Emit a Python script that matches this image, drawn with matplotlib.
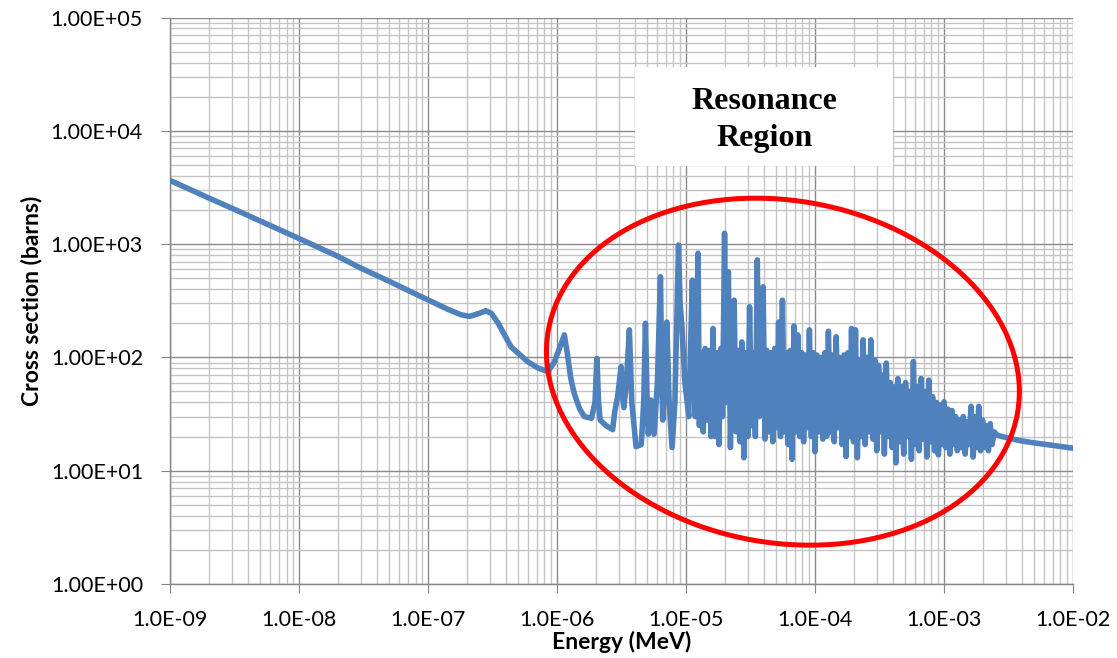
import matplotlib
matplotlib.use("Agg")
import matplotlib.pyplot as plt
from matplotlib.patches import Ellipse, Rectangle
from matplotlib.transforms import ScaledTranslation
from matplotlib.ticker import LogLocator, FuncFormatter, NullFormatter

# 1/v part below the first resonance
thermal_energy = [1.0e-9, 2.0e-9, 3.0e-9, 5.0e-9, 1.0e-8, 2.0e-8, 3.0e-8, 5.0e-8, 7.0e-8,
                  1.0e-7, 1.4e-7, 1.8e-7, 2.1e-7, 2.5e-7, 2.8e-7, 3.1e-7, 3.5e-7, 4.4e-7,
                  5.9e-7, 7.2e-7, 8.5e-7]
thermal_xs = [3650, 2550, 2080, 1600, 1120, 780, 615, 470, 390,
              322, 268, 238, 230, 245, 258, 245, 200, 124,
              92, 80, 75]

# isolated resonances
low_res_energy = [9.5e-7, 1.04e-6, 1.14e-6, 1.2e-6, 1.28e-6, 1.36e-6, 1.5e-6, 1.63e-6, 1.85e-6,
                  1.97e-6, 2.04e-6, 2.1e-6, 2.16e-6, 2.4e-6, 2.7e-6, 2.8e-6, 2.95e-6, 3.14e-6,
                  3.22e-6, 3.3e-6, 3.45e-6, 3.64e-6, 3.8e-6, 4.1e-6, 4.5e-6, 4.7e-6, 4.85e-6,
                  5.0e-6, 5.1e-6, 5.35e-6, 5.65e-6, 5.8e-6, 6.0e-6, 6.34e-6, 6.5e-6, 6.6e-6,
                  6.85e-6, 7.1e-6, 7.4e-6, 7.8e-6, 8.2e-6, 8.75e-6, 9.0e-6, 9.3e-6, 9.8e-6,
                  1.03e-5, 1.05e-5, 1.08e-5, 1.12e-5, 1.15e-5, 1.18e-5, 1.24e-5]
low_res_xs = [90, 118, 158, 110, 65, 48, 35, 30, 29,
              40, 98, 40, 28, 25, 23, 33, 45, 83,
              45, 36, 60, 175, 40, 16.3, 17, 40, 200,
              40, 21, 42, 21, 32, 60, 515, 60, 28,
              60, 205, 40, 16, 40, 980, 300, 187, 60,
              37, 30, 100, 480, 130, 30, 830]

# dense resonance band
dense_energy = [
    1.27e-5, 1.32e-5, 1.36e-5, 1.41e-5, 1.46e-5, 1.51e-5, 1.56e-5, 1.62e-5, 1.68e-5, 1.74e-5,
    1.80e-5, 1.86e-5, 1.92e-5, 1.99e-5, 2.06e-5, 2.13e-5, 2.21e-5, 2.28e-5, 2.36e-5, 2.45e-5,
    2.53e-5, 2.62e-5, 2.71e-5, 2.81e-5, 2.91e-5, 3.01e-5, 3.11e-5, 3.22e-5, 3.34e-5, 3.45e-5,
    3.57e-5, 3.70e-5, 3.83e-5, 3.96e-5, 4.10e-5, 4.24e-5, 4.39e-5, 4.55e-5, 4.71e-5, 4.87e-5,
    5.04e-5, 5.22e-5, 5.40e-5, 5.59e-5, 5.79e-5, 5.99e-5, 6.20e-5, 6.42e-5, 6.64e-5, 6.87e-5,
    7.11e-5, 7.36e-5, 7.62e-5, 7.89e-5, 8.16e-5, 8.45e-5, 8.74e-5, 9.05e-5, 9.37e-5, 9.70e-5,
    1.00e-4, 1.035e-4, 1.07e-4, 1.11e-4, 1.15e-4, 1.19e-4, 1.23e-4, 1.27e-4, 1.32e-4, 1.36e-4,
    1.41e-4, 1.46e-4, 1.51e-4, 1.56e-4, 1.62e-4, 1.68e-4, 1.74e-4, 1.80e-4, 1.86e-4, 1.92e-4,
    1.99e-4, 2.06e-4, 2.13e-4, 2.21e-4, 2.28e-4, 2.36e-4, 2.45e-4, 2.53e-4, 2.62e-4, 2.71e-4,
    2.81e-4, 2.91e-4, 3.01e-4, 3.11e-4, 3.22e-4, 3.34e-4, 3.45e-4, 3.57e-4, 3.70e-4, 3.83e-4,
    3.96e-4, 4.10e-4, 4.24e-4, 4.39e-4, 4.55e-4, 4.71e-4, 4.87e-4, 5.04e-4, 5.22e-4, 5.40e-4,
    5.59e-4, 5.79e-4, 5.99e-4, 6.20e-4, 6.42e-4, 6.64e-4, 6.87e-4, 7.11e-4, 7.36e-4, 7.62e-4,
    7.89e-4, 8.16e-4, 8.45e-4, 8.74e-4, 9.05e-4, 9.37e-4, 9.70e-4,
    1.00e-3, 1.035e-3, 1.07e-3, 1.11e-3, 1.15e-3, 1.19e-3, 1.23e-3, 1.27e-3, 1.32e-3, 1.36e-3,
    1.41e-3, 1.46e-3, 1.51e-3, 1.56e-3, 1.62e-3, 1.68e-3, 1.74e-3, 1.80e-3, 1.86e-3, 1.92e-3,
    1.99e-3, 2.06e-3, 2.13e-3, 2.21e-3, 2.28e-3, 2.36e-3, 2.45e-3]
dense_xs = [
    25, 110, 22, 120, 28, 115, 20, 180, 20, 110,
    17, 120, 30, 1245, 40, 570, 16, 115, 320, 22,
    115, 18, 137, 13, 110, 20, 280, 25, 110, 20,
    725, 30, 115, 420, 19, 115, 22, 110, 18, 120,
    24, 205, 20, 320, 22, 110, 17, 115, 12.6, 190,
    22, 158, 20, 110, 18, 105, 24, 175, 20, 110,
    14.7, 105, 22, 100, 19, 110, 20, 170, 22, 105,
    18, 152, 24, 100, 17, 105, 13.3, 110, 20, 180,
    18, 175, 13, 95, 20, 143, 17, 100, 22, 143,
    19, 95, 15, 85, 22, 70, 14, 89, 20, 60,
    16, 55, 11.7, 65, 18, 55, 14, 60, 20, 50,
    12.6, 92, 17, 55, 15, 65, 19, 50, 13.2, 63,
    18, 45, 15, 40, 13.8, 38, 17,
    40.6, 16, 35, 14, 34, 17, 30, 15, 28, 16,
    30, 14, 27, 17, 37, 13.2, 30, 16, 37, 15,
    28, 16, 25, 15, 26, 17, 22]

# smooth part above the resonance region
tail_energy = [2.6e-3, 3.2e-3, 4.0e-3, 5.0e-3, 6.0e-3, 7.5e-3, 1.0e-2]
tail_xs = [20.5, 19.3, 18.3, 17.6, 17.1, 16.5, 15.8]

energy = thermal_energy + low_res_energy + dense_energy + tail_energy
xs = thermal_xs + low_res_xs + dense_xs + tail_xs

fig = plt.figure(figsize=(11.17, 6.58), dpi=100)
ax = fig.add_axes([0.1522, 0.1125, 0.8084, 0.8609])

ax.plot(energy, xs, color="#4F81BD", lw=4.0, solid_joinstyle="round",
        solid_capstyle="round", zorder=3)

ax.set_xscale("log")
ax.set_yscale("log")
ax.set_xlim(1e-9, 1e-2)
ax.set_ylim(1, 1e5)

ax.xaxis.set_major_locator(LogLocator(base=10, numticks=20))
ax.yaxis.set_major_locator(LogLocator(base=10, numticks=20))
ax.xaxis.set_minor_locator(LogLocator(base=10, subs=range(2, 10), numticks=100))
ax.yaxis.set_minor_locator(LogLocator(base=10, subs=range(2, 10), numticks=100))
ax.xaxis.set_major_formatter(FuncFormatter(lambda v, p: f"{v:.1E}"))
ax.yaxis.set_major_formatter(FuncFormatter(lambda v, p: f"{v:.2E}"))
ax.xaxis.set_minor_formatter(NullFormatter())
ax.yaxis.set_minor_formatter(NullFormatter())

ax.grid(which="minor", color="#c4c4c4", lw=1.0, zorder=0)
ax.grid(which="major", color="#8a8a8a", lw=1.0, zorder=0)
ax.set_axisbelow(True)

for s in ["top", "right"]:
    ax.spines[s].set_visible(False)
for s in ["left", "bottom"]:
    ax.spines[s].set_color("#868686")
    ax.spines[s].set_linewidth(1.0)

ax.tick_params(which="major", direction="out", length=6.5, color="#868686",
               labelsize=15.5, labelcolor="black")
ax.tick_params(axis="y", pad=13)
ax.tick_params(axis="x", pad=12)
ax.tick_params(which="minor", length=0)
for lab in ax.get_xticklabels() + ax.get_yticklabels():
    lab.set_family("Lato")

ax.set_xlabel("Energy (MeV)", fontsize=16.5, fontweight="bold", family="Lato", labelpad=1)
ax.set_ylabel("Cross section (barns)", fontsize=16.5, fontweight="bold", family="Lato", labelpad=6)

# label box
ax.add_patch(Rectangle((0.515, 0.738), 0.2857, 0.1746, transform=ax.transAxes,
                       facecolor="white", edgecolor="none", zorder=2))
ax.text(0.658, 0.819, "Resonance\nRegion", transform=ax.transAxes, ha="center", va="center",
        family="Liberation Serif", fontweight="bold", fontsize=23, linespacing=1.35, zorder=4)

# red ellipse around the resonance region
ell = Ellipse((0, 0), 4.764, 3.422, angle=-10, fill=False, edgecolor="#FF0000", lw=3.6,
              transform=fig.dpi_scale_trans + ScaledTranslation(5.64e-5, 74.8, ax.transData),
              zorder=5)
ax.add_patch(ell)

fig.savefig("out.png", dpi=100)
